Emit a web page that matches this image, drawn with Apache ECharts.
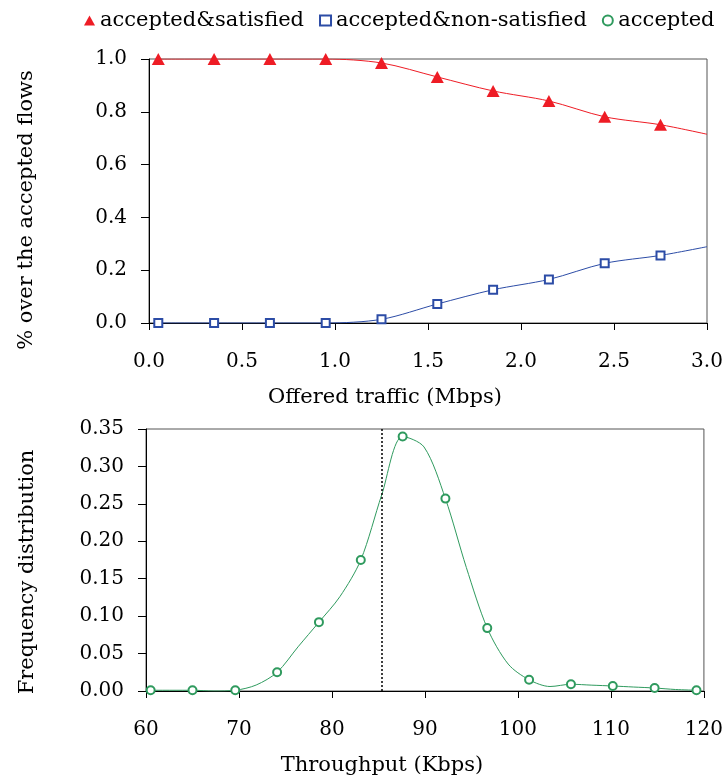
<!DOCTYPE html>
<html>
<head>
<meta charset="utf-8">
<script src="https://cdn.jsdelivr.net/npm/echarts@6/dist/echarts.min.js"></script>
<style>
  html, body { margin: 0; padding: 0; background: #fff; }
  #main { width: 726px; height: 778px; }
</style>
</head>
<body>
<div id="main"></div>
<script>
var chartDom = document.getElementById('main');
var myChart = echarts.init(chartDom);
var option;

// top panel: offered traffic (Mbps), last point is the line end at the frame (no marker)
var trafficX = [0.05, 0.35, 0.65, 0.95, 1.25, 1.55, 1.85, 2.15, 2.45, 2.75, 3.0];
var satisfied = [1.0, 1.0, 1.0, 1.0, 0.985, 0.932, 0.879, 0.841, 0.781, 0.751, 0.715];
var nonSatisfied = [0, 0, 0, 0, 0.014, 0.072, 0.126, 0.165, 0.226, 0.256, 0.289];
var markedCount = 10;

// bottom panel: throughput (Kbps), marked samples
var throughputX = [60.5, 65.0, 69.6, 74.1, 78.6, 83.1, 87.6, 92.2, 96.7, 101.2, 105.7, 110.2, 114.7, 119.2];
var accepted = [0.001, 0.001, 0.001, 0.025, 0.092, 0.175, 0.340, 0.257, 0.084, 0.015, 0.009, 0.0067, 0.004, 0.001];
// the full curve, with the unmarked samples in between
var curveX = [60.5, 62.8, 65.0, 67.3, 69.6, 71.85, 74.1, 76.35, 78.6, 80.85, 83.1, 85.35, 87.6, 89.9,
  92.2, 94.45, 96.7, 98.95, 101.2, 103.45, 105.7, 107.95, 110.2, 112.45, 114.7, 116.95, 119.2];
var curveY = [0.001, 0.001, 0.001, 0.0, 0.001, 0.008, 0.025, 0.059, 0.092, 0.126, 0.175, 0.262, 0.340, 0.326,
  0.257, 0.165, 0.084, 0.036, 0.015, 0.006, 0.009, 0.0078, 0.0067, 0.0053, 0.004, 0.002, 0.001];
var meanThroughput = 85.3;

var RED = '#ee1c25';
var BLUE = '#2c4ca6';
var GREEN = '#2f9a5e';
var FONT = '"DejaVu Serif", "Liberation Serif", serif';

function pairs(xs, ys) {
    return xs.map(function (x, i) { return [x, ys[i]]; });
}

var axisText = { color: '#000', fontFamily: FONT, fontSize: 20 };

function xAxisOf(idx, min, max, step, digits, name) {
    return {
        type: 'value', gridIndex: idx, min: min, max: max, interval: step,
        name: name, nameLocation: 'middle', nameGap: 64,
        nameTextStyle: { color: '#000', fontFamily: FONT, fontSize: 21, padding: [0, 86, 0, 0] },
        axisLine: { show: true, onZero: false, lineStyle: { color: '#000', width: 1 } },
        axisTick: { show: true, length: 7, lineStyle: { color: '#000' } },
        axisLabel: Object.assign({ margin: 29, formatter: function (v) { return v.toFixed(digits); } }, axisText),
        splitLine: { show: false }
    };
}

function yAxisOf(idx, min, max, step, digits, name, gap, shift) {
    return {
        type: 'value', gridIndex: idx, min: min, max: max, interval: step,
        name: name, nameLocation: 'middle', nameGap: gap,
        nameTextStyle: { color: '#000', fontFamily: FONT, fontSize: 21, padding: [0, shift, 0, 0] },
        axisLine: { show: true, lineStyle: { color: '#000', width: 1 } },
        axisTick: { show: true, length: 8, lineStyle: { color: '#000' } },
        axisLabel: Object.assign({ margin: 22, formatter: function (v) { return v.toFixed(digits); } }, axisText),
        splitLine: { show: false }
    };
}

option = {
    animation: false,
    backgroundColor: '#fff',
    legend: {
        left: 79, top: 5,
        itemWidth: 11, itemHeight: 10, itemGap: 15,
        textStyle: { color: '#000', fontFamily: FONT, fontSize: 21 },
        selectedMode: false,
        data: [
            { name: 'accepted&satisfied', icon: 'triangle', itemStyle: { color: RED } },
            { name: 'accepted&non-satisfied', icon: 'rect', itemStyle: { color: '#fff', borderColor: BLUE, borderWidth: 2 } },
            { name: 'accepted', icon: 'circle', itemStyle: { color: '#fff', borderColor: GREEN, borderWidth: 2, opacity: 1 } }
        ]
    },
    grid: [
        { left: 149, right: 19, top: 59, height: 264, show: true, borderColor: '#555', borderWidth: 1 },
        { left: 146, right: 21, top: 429, height: 262, show: true, borderColor: '#555', borderWidth: 1 }
    ],
    xAxis: [
        xAxisOf(0, 0, 3, 0.5, 1, 'Offered traffic (Mbps)'),
        xAxisOf(1, 60, 120, 10, 0, 'Throughput (Kbps)')
    ],
    yAxis: [
        yAxisOf(0, 0, 1, 0.2, 1, '% over the accepted flows', 112, 38),
        yAxisOf(1, 0, 0.35, 0.05, 2, 'Frequency distribution', 108, 24)
    ],
    series: [
        {
            name: 'accepted&satisfied',
            type: 'line', xAxisIndex: 0, yAxisIndex: 0,
            smooth: 0.3,
            data: pairs(trafficX, satisfied),
            symbol: function (v, p) { return p.dataIndex < markedCount ? 'triangle' : 'none'; },
            symbolSize: [13, 12],
            itemStyle: { color: RED },
            lineStyle: { color: RED, width: 1 },
            emphasis: { disabled: true }
        },
        {
            name: 'accepted&non-satisfied',
            type: 'line', xAxisIndex: 0, yAxisIndex: 0,
            smooth: 0.3,
            data: pairs(trafficX, nonSatisfied),
            symbol: function (v, p) { return p.dataIndex < markedCount ? 'rect' : 'none'; },
            symbolSize: 8,
            itemStyle: { color: '#fff', borderColor: BLUE, borderWidth: 2 },
            lineStyle: { color: BLUE, width: 1 },
            emphasis: { disabled: true }
        },
        {
            name: 'accepted curve',
            type: 'line', xAxisIndex: 1, yAxisIndex: 1,
            smooth: 0.3,
            data: pairs(curveX, curveY),
            showSymbol: false,
            symbol: 'none',
            lineStyle: { color: GREEN, width: 1 },
            emphasis: { disabled: true },
            markLine: {
                silent: true,
                symbol: 'none',
                label: { show: false },
                lineStyle: { color: '#000', type: [2, 2], width: 1.5 },
                data: [{ xAxis: meanThroughput }]
            }
        },
        {
            name: 'accepted',
            type: 'scatter', xAxisIndex: 1, yAxisIndex: 1,
            data: pairs(throughputX, accepted),
            symbol: 'circle',
            symbolSize: 8,
            itemStyle: { color: '#fff', borderColor: GREEN, borderWidth: 2, opacity: 1 },
            emphasis: { disabled: true },
            z: 3
        }
    ]
};

option && myChart.setOption(option);
</script>
</body>
</html>
